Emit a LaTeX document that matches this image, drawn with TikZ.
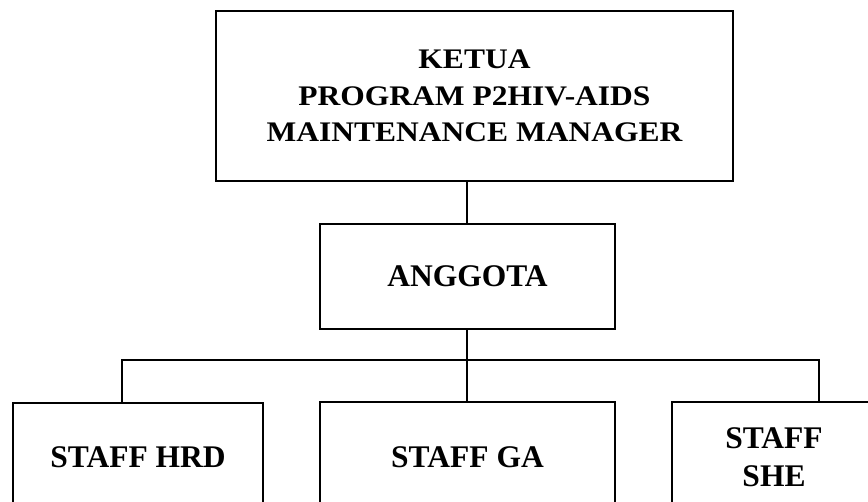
\documentclass[tikz,border=0pt]{standalone}
\usepackage{fontspec}
\setmainfont{Liberation Serif}
\begin{document}
\begin{tikzpicture}[x=1pt,y=-1pt,
  box/.style={draw=black,line width=1.3pt,rectangle,inner sep=0pt,
    font=\bfseries\fontsize{31.5}{37}\selectfont,align=center},
  link/.style={draw=black,line width=1.2pt}]
  % page frame
  \useasboundingbox (0,0) rectangle (868,501);
  \clip (0,0) rectangle (868,501);
  \fill[white] (0,0) rectangle (868,501);

  % chairman: frame and title drawn as two nodes so the title sits a little low
  \node[box,minimum width=517pt,minimum height=170pt] (ketua) at (474.5,96) {};
  \node[box,draw=none] (ketuatext) at (474.5,98.5)
    {\scalebox{1}[0.9]{\begin{tabular}{@{}c@{}}KETUA\\[3.5pt]PROGRAM P2HIV-AIDS\\[3.5pt]MAINTENANCE MANAGER\end{tabular}}};

  % members
  \node[box,minimum width=295pt,minimum height=105pt] (anggota) at (467.5,276.5) {ANGGOTA};

  % staff row (boxes run past the lower edge)
  \node[box,minimum width=250pt,minimum height=109pt] (hrd) at (138,457.5) {STAFF HRD};
  \node[box,minimum width=295pt,minimum height=110pt] (ga) at (467.5,457) {STAFF GA};
  \node[box,minimum width=204pt,minimum height=110pt] (she) at (774,457) {STAFF\\[1pt]SHE};

  % connectors
  \coordinate (busL) at (122,360);
  \coordinate (busR) at (819,360);
  \coordinate (busM) at (467,360);
  \draw[link] (anggota.north -| busM) -- (ketua.south -| busM);
  \draw[link] (anggota.south -| busM) -- (ga.north -| busM);
  \draw[link] (hrd.north -| busL) -- (busL) -- (busR) -- (she.north -| busR);
\end{tikzpicture}
\end{document}
